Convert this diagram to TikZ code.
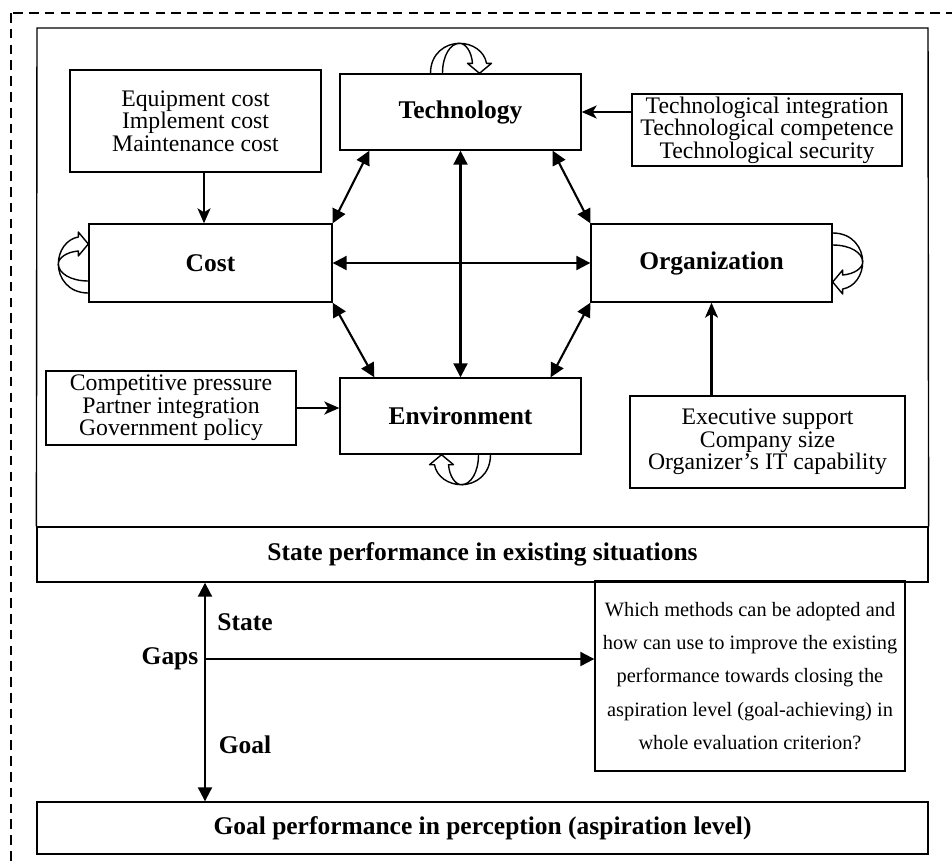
\documentclass[tikz,border=0pt]{standalone}
\usepackage{fontspec}
\setmainfont{Liberation Serif}
\usetikzlibrary{arrows.meta,calc}

\tikzset{
  factor/.style={draw,line width=0.8pt,inner sep=0pt,
                 font=\fontsize{14.5}{17}\selectfont\bfseries},
  items/.style={draw,line width=0.8pt,inner sep=0pt,align=center,
                font=\fontsize{13.5}{12.8}\selectfont},
  tag/.style={font=\fontsize{14.5}{17}\selectfont\bfseries},
  link/.style={line width=1.2pt,
               {Triangle[length=2.8mm,width=2.8mm]}-{Triangle[length=2.8mm,width=2.8mm]}},
  feed/.style={line width=1.2pt,-{Stealth[length=3mm,width=2.6mm,inset=0.8mm]}},
  gap/.style={line width=1.2pt,-{Triangle[length=2.8mm,width=2.8mm]}},
  looparrow/.style={line width=0.8pt,line join=round},
  % curled arrow coming back into a box, drawn for the lower side
  selfloop/.pic={
    \draw[looparrow] (30,0) .. controls (30,20) and (15,30) .. (1,30)
                     .. controls (-12,30) and (-24,22) .. (-26,10) -- (-31,10) -- (-19,0)
                     -- (-7,10) -- (-12,10) .. controls (-11,22) and (-5,30) .. (1,30);
    \draw[looparrow] (18,0) .. controls (18,18) and (10,30) .. (1,30);
  }
}

\begin{document}
\begin{tikzpicture}[x=0.02cm,y=-0.02cm]
  \clip (0,0) rectangle (952,866);
  \draw[line width=0.6pt,dash pattern=on 5.5pt off 3.5pt] (11,13) rectangle (980,900);

  % the four factors
  \node[factor,minimum width=4.82cm,minimum height=1.52cm] (tech) at (460.5,112) {Technology};
  \node[factor,minimum width=4.86cm,minimum height=1.56cm] (cost) at (210.5,263) {Cost};
  \node[factor,minimum width=4.82cm,minimum height=1.56cm] (org)  at (711.5,263) {Organization};
  \node[factor,minimum width=4.82cm,minimum height=1.52cm] (env)  at (460.5,416) {Environment};

  % their items
  \node[items,minimum width=5.02cm,minimum height=2.04cm] (costitems) at (195.5,121)
       {Equipment cost\\Implement cost\\Maintenance cost};
  \node[items,minimum width=5.4cm,minimum height=1.44cm] (techitems) at (767,130)
       {Technological integration\\Technological competence\\Technological security};
  \node[items,minimum width=5.0cm,minimum height=1.48cm] (envitems) at (171,408)
       {Competitive pressure\\Partner integration\\Government policy};
  \node[items,minimum width=5.5cm,minimum height=1.84cm] (orgitems) at (767.5,442)
       {Executive support\\Company size\\Organizer’s IT capability};

  \draw[feed] (costitems.south -| 204,0) -- (cost.north -| 204,0);
  \draw[feed] (techitems.west |- tech.east) -- (tech.east);
  \draw[feed] (envitems.east) -- (envitems.east -| env.west);
  \draw[feed] (orgitems.north -| org.south) -- (org.south);

  \draw[link] (cost.east) -- (org.west);
  \draw[link] (tech.south) -- (env.north);
  \draw[link] (cost.north east) -- ($(tech.south west)+(30,0)$);
  \draw[link] (org.north west) -- ($(tech.south east)+(-29,0)$);
  \draw[link] (cost.south east) -- ($(env.north west)+(35,0)$);
  \draw[link] (org.south west) -- ($(env.north east)+(-31,0)$);

  \pic[rotate=180] at (tech.north) {selfloop};
  \pic at (env.south) {selfloop};
  \pic[rotate=-90] at (cost.west) {selfloop};
  \pic[rotate=90] at (org.east) {selfloop};

  % state and goal rows
  \node[factor,minimum width=17.82cm,minimum height=1.1cm] (state) at (482.5,554.5)
       {State performance in existing situations};
  \draw[line width=0.8pt] (state.north west) -- (37,28) -- (928,28) -- (state.north east);
  \node[factor,minimum width=17.82cm,minimum height=1.04cm] (goal) at (482.5,828)
       {Goal performance in perception (aspiration level)};

  \node[items,minimum width=6.2cm,minimum height=3.8cm,font=\fontsize{11.6}{19}\selectfont]
       (methods) at (750,676)
       {Which methods can be adopted and\\how can use to improve the existing\\performance towards closing the\\aspiration level (goal-achieving) in\\whole evaluation criterion?};

  \coordinate (gapline) at (205,659);
  \draw[link] (state.south -| gapline) -- (goal.north -| gapline);
  \draw[gap] (gapline) -- (gapline -| methods.west);
  \node[tag] (statetag) at (245,622) {State};
  \node[tag] (gapstag)  at (170,659) {Gaps};
  \node[tag] (goaltag)  at (245,745) {Goal};
\end{tikzpicture}
\end{document}
